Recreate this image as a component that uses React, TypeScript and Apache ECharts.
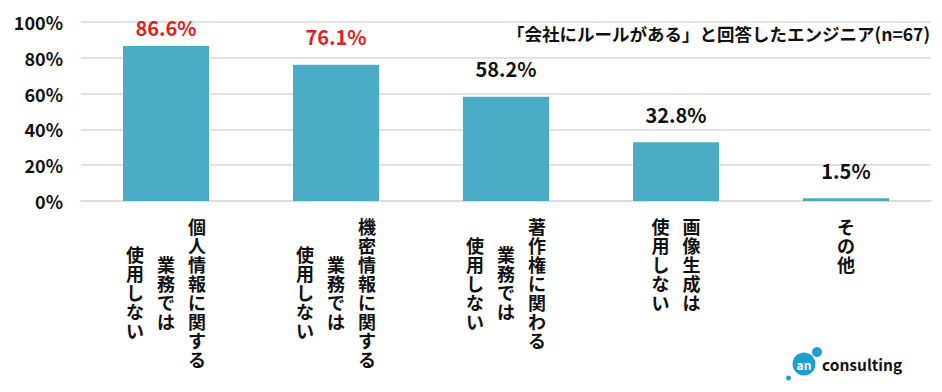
import React, { useEffect, useRef } from "react";
import * as echarts from "echarts";

const categories = [
  "個人情報に関する業務では使用しない",
  "機密情報に関する業務では使用しない",
  "著作権に関わる業務では使用しない",
  "画像生成は使用しない",
  "その他",
];
// vertical label columns, right to left
const categoryColumns = [
  ["個人情報に関する", "業務では", "使用しない"],
  ["機密情報に関する", "業務では", "使用しない"],
  ["著作権に関わる", "業務では", "使用しない"],
  ["画像生成は", "使用しない"],
  ["その他"],
];
const values = [86.6, 76.1, 58.2, 32.8, 1.5];
const highlighted = [true, true, false, false, false];
const yTicks = [0, 20, 40, 60, 80, 100];
const titleText = "「会社にルールがある」と回答したエンジニア(n=67)";

const FONT = '"Noto Sans CJK JP", "Noto Sans", sans-serif';

export default function App() {
  const ref = useRef<HTMLDivElement>(null);
  useEffect(() => {
    const chart = echarts.init(ref.current!, null, { renderer: "svg" });
    const colW = 31;
    const lineH = 19;
    chart.setOption({
      animation: false,
      backgroundColor: "#ffffff",
      grid: { left: 81, right: 11, top: 22, bottom: 191 },
      xAxis: {
        type: "category",
        data: categories,
        axisTick: { show: false },
        axisLabel: { show: false },
        axisLine: { lineStyle: { color: "#d9d9d9", width: 1.5 } },
      },
      yAxis: {
        type: "value",
        min: yTicks[0],
        max: yTicks[yTicks.length - 1],
        interval: 20,
        axisLine: { show: false },
        axisTick: { show: false },
        axisLabel: {
          formatter: "{value}%",
          color: "#111",
          fontSize: 18,
          fontWeight: "bold",
          fontFamily: FONT,
          margin: 18,
        },
        splitLine: { lineStyle: { color: "#d9d9d9", width: 1.5 } },
      },
      graphic: [
        {
          type: "text",
          right: 12,
          top: 25,
          style: {
            text: titleText,
            fill: "#111",
            fontSize: 17.5,
            fontWeight: "bold",
            fontFamily: FONT,
          },
        },
        {
          type: "group",
          left: 786,
          top: 347,
          children: [
            { type: "circle", shape: { cx: 18, cy: 18, r: 11.5 }, style: { fill: "#1e9fd0" } },
            { type: "circle", shape: { cx: 31, cy: 6, r: 5 }, style: { fill: "#1e9fd0" } },
            { type: "circle", shape: { cx: 2.5, cy: 32, r: 2.5 }, style: { fill: "#1e9fd0" } },
            {
              type: "text",
              x: 18,
              y: 18,
              style: {
                text: "an",
                fill: "#fff",
                fontSize: 12,
                fontWeight: "bold",
                fontFamily: FONT,
                align: "center",
                verticalAlign: "middle",
              },
            },
            {
              type: "text",
              x: 36,
              y: 18,
              style: {
                text: "consulting",
                fill: "#111",
                fontSize: 15.5,
                fontWeight: "bold",
                fontFamily: FONT,
                align: "left",
                verticalAlign: "middle",
              },
            },
          ],
        },
      ],
      series: [
        {
          type: "bar",
          barWidth: 86,
          itemStyle: { color: "#4bacc6" },
          data: values.map((v, i) => ({
            value: v,
            label: {
              show: true,
              position: "top",
              distance: i === 0 ? 9 : 18,
              formatter: "{c}%",
              color: highlighted[i] ? "#e3201b" : "#111",
              fontSize: 20,
              fontWeight: "bold",
              fontFamily: FONT,
            },
          })),
        },
        {
          type: "custom",
          silent: true,
          clip: false,
          data: categories.map((c) => [c, 0]),
          encode: { x: 0, y: 1 },
          renderItem: (params: any, api: any) => {
            const pt = api.coord([api.value(0), 0]);
            const cols = categoryColumns[params.dataIndex];
            const n = cols.length;
            const maxLen = Math.max(...cols.map((c) => c.length));
            const cy = pt[1] + 15 + (maxLen * lineH) / 2;
            return {
              type: "group",
              children: cols.map((col, j) => ({
                type: "text",
                x: pt[0] + ((n - 1) / 2 - j) * colW,
                y: cy,
                style: {
                  text: col.split("").join("\n"),
                  fill: "#111",
                  fontSize: 18,
                  fontWeight: "bold",
                  fontFamily: FONT,
                  lineHeight: lineH,
                  align: "center",
                  verticalAlign: "middle",
                },
              })),
            };
          },
        },
      ],
    });
    return () => chart.dispose();
  }, []);
  return <div ref={ref} style={{ width: 942, height: 392, margin: -8 }} />;
}
